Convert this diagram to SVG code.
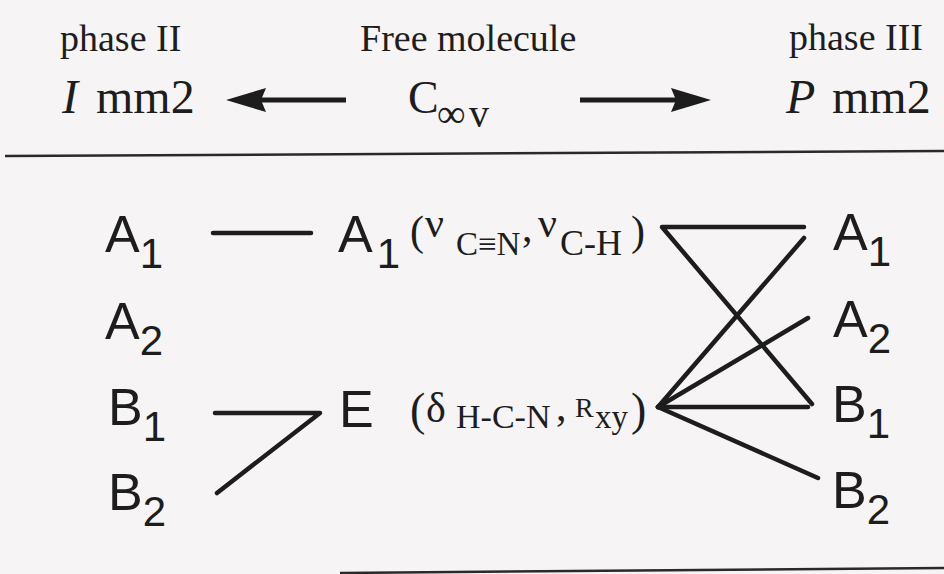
<svg xmlns="http://www.w3.org/2000/svg" width="944" height="574" viewBox="0 0 944 574">
  <style>
    .serif { font-family: "Liberation Serif", "Times New Roman", serif; fill: #1d1d1d; }
    .sans { font-family: "Liberation Sans", Arial, sans-serif; fill: #1d1d1d; font-size: 52px; }
    .hdr { font-size: 38px; }
    .rule { stroke: #2a2a2a; stroke-width: 2.5; fill: none; }
    .conn { stroke: #1d1d1d; stroke-width: 4.5; fill: none; stroke-linecap: round; stroke-linejoin: round; }
    .arrow { stroke: #1d1d1d; stroke-width: 5; fill: none; }
  </style>
  <defs>
    <marker id="head" viewBox="0 0 40 24" refX="5" refY="12" markerWidth="40" markerHeight="24" markerUnits="userSpaceOnUse" orient="auto">
      <path d="M0,0 L40,12 L0,24 L5,12 Z" fill="#1d1d1d"/>
    </marker>
  </defs>
  <rect width="944" height="574" fill="#f6f4f4"/>

  <!-- header -->
  <g id="header">
    <text class="serif hdr" x="60" y="51">phase II</text>
    <text class="serif hdr" x="360" y="51">Free molecule</text>
    <text class="serif hdr" x="789" y="50">phase III</text>
    <text class="serif" font-size="48" y="113"><tspan x="62" font-style="italic">I </tspan><tspan x="96">mm2</tspan></text>
    <text class="serif" font-size="46" x="408" y="113">C<tspan font-size="40" dy="14" x="437">∞</tspan><tspan font-size="40" x="469">v</tspan></text>
    <text class="serif" font-size="48" y="113"><tspan x="786" font-style="italic">P </tspan><tspan x="832">mm2</tspan></text>
  </g>

  <g id="arrows">
    <line class="arrow" x1="346" y1="100" x2="261" y2="100" marker-end="url(#head)"/>
    <line class="arrow" x1="580" y1="100" x2="676" y2="100" marker-end="url(#head)"/>
  </g>

  <g id="rules">
    <line class="rule" x1="5" y1="156" x2="944" y2="151"/>
    <line class="rule" x1="340" y1="573" x2="944" y2="568"/>
  </g>

  <!-- left column: phase II -->
  <g id="left-A1"><text class="sans" x="105" y="252">A<tspan font-size="42" dy="16">1</tspan></text></g>
  <g id="left-A2"><text class="sans" x="105" y="339">A<tspan font-size="42" dy="16">2</tspan></text></g>
  <g id="left-B1"><text class="sans" x="108" y="425">B<tspan font-size="42" dy="16">1</tspan></text></g>
  <g id="left-B2"><text class="sans" x="108" y="510">B<tspan font-size="42" dy="16">2</tspan></text></g>

  <!-- middle column: free molecule -->
  <g id="mid-A1">
    <text class="sans" x="338" y="252">A<tspan font-size="42" dy="16" dx="4">1</tspan></text>
    <text class="serif" font-size="42" y="245"><tspan x="410">(</tspan><tspan x="425" y="237">ν</tspan><tspan x="456" y="255" font-size="33">C≡N</tspan><tspan x="522" y="241">,<tspan font-size="6"> </tspan></tspan><tspan x="538" y="237">ν</tspan><tspan x="560" y="255" font-size="36">C-H</tspan><tspan x="631" y="245">)</tspan></text>
  </g>
  <g id="mid-E">
    <text class="sans" x="339" y="427">E</text>
    <text class="serif" font-size="46" y="425"><tspan x="410">(</tspan><tspan x="426" y="422" font-size="42">δ</tspan><tspan x="456" y="428" font-size="34">H-C-N</tspan><tspan x="556" y="420" font-size="42">,<tspan font-size="6"> </tspan></tspan><tspan x="575" y="417" font-size="28">R</tspan><tspan x="595" y="428" font-size="33">xy</tspan><tspan x="631" y="425">)</tspan></text>
  </g>

  <!-- right column: phase III -->
  <g id="right-A1"><text class="sans" x="833" y="250">A<tspan font-size="42" dy="16">1</tspan></text></g>
  <g id="right-A2"><text class="sans" x="833" y="337">A<tspan font-size="42" dy="16">2</tspan></text></g>
  <g id="right-B1"><text class="sans" x="832" y="422">B<tspan font-size="42" dy="16">1</tspan></text></g>
  <g id="right-B2"><text class="sans" x="832" y="508">B<tspan font-size="42" dy="16">2</tspan></text></g>

  <!-- connectors -->
  <g id="connectors">
    <line class="conn" x1="213" y1="233" x2="311" y2="233"/>
    <polyline class="conn" points="215,413 320,413 217,493"/>
    <polyline class="conn" points="804,227 662,227 812,404"/>
    <line class="conn" x1="658" y1="407" x2="804" y2="238"/>
    <line class="conn" x1="658" y1="407" x2="808" y2="318"/>
    <line class="conn" x1="658" y1="407" x2="808" y2="407"/>
    <line class="conn" x1="658" y1="407" x2="818" y2="478"/>
  </g>
</svg>
